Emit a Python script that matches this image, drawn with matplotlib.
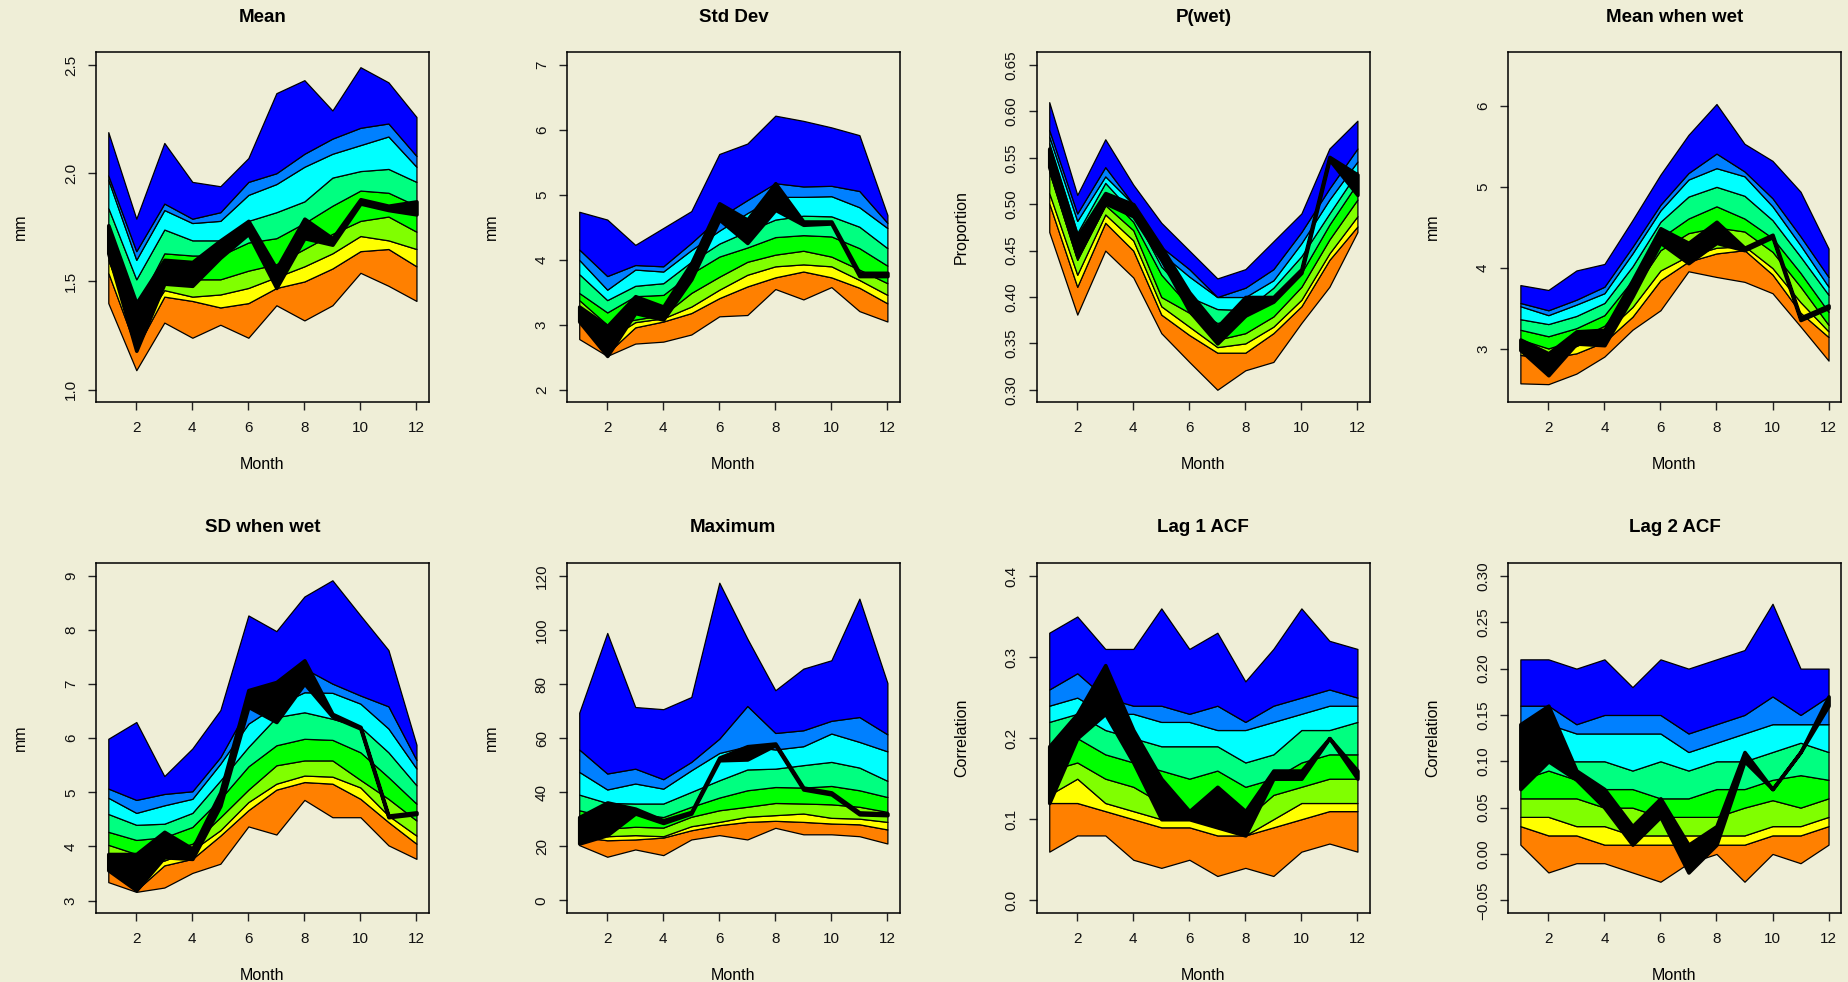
import matplotlib
matplotlib.use("Agg")
import matplotlib.pyplot as plt
from matplotlib.ticker import FixedLocator, FuncFormatter

plt.rcParams['font.family'] = ['Liberation Sans', 'DejaVu Sans']

months = list(range(1, 13))
band_colors = ['#FF8000', '#FFFF00', '#80FF00', '#00FF00',
               '#00FF80', '#00FFFF', '#0080FF', '#0000FF']
bg = '#EFEED7'

# quantile boundaries, lowest (b0) to highest (b8), one row per boundary
mean_q = [
    [1.40, 1.09, 1.31, 1.24, 1.30, 1.24, 1.39, 1.32, 1.39, 1.54, 1.48, 1.41],
    [1.54, 1.19, 1.43, 1.41, 1.38, 1.40, 1.47, 1.50, 1.56, 1.64, 1.65, 1.57],
    [1.60, 1.26, 1.46, 1.43, 1.44, 1.47, 1.52, 1.57, 1.63, 1.71, 1.69, 1.65],
    [1.65, 1.34, 1.52, 1.51, 1.51, 1.55, 1.58, 1.65, 1.72, 1.78, 1.80, 1.73],
    [1.72, 1.38, 1.63, 1.62, 1.62, 1.68, 1.70, 1.77, 1.85, 1.92, 1.91, 1.85],
    [1.84, 1.51, 1.74, 1.69, 1.69, 1.78, 1.82, 1.87, 1.98, 2.01, 2.02, 1.96],
    [1.97, 1.60, 1.83, 1.77, 1.78, 1.90, 1.95, 2.03, 2.09, 2.13, 2.17, 2.03],
    [1.99, 1.64, 1.86, 1.79, 1.82, 1.96, 2.00, 2.09, 2.16, 2.21, 2.23, 2.08],
    [2.19, 1.79, 2.14, 1.96, 1.94, 2.07, 2.37, 2.43, 2.29, 2.49, 2.42, 2.26],
]
mean_obs_lo = [1.63, 1.18, 1.49, 1.48, 1.61, 1.72, 1.47, 1.70, 1.67, 1.86, 1.83, 1.81]
mean_obs_hi = [1.76, 1.40, 1.60, 1.59, 1.69, 1.78, 1.56, 1.79, 1.70, 1.88, 1.85, 1.87]

sd_q = [
    [2.78, 2.52, 2.71, 2.74, 2.85, 3.13, 3.15, 3.55, 3.39, 3.58, 3.21, 3.05],
    [3.05, 2.56, 2.96, 3.05, 3.18, 3.41, 3.59, 3.73, 3.82, 3.73, 3.57, 3.33],
    [3.28, 2.77, 3.04, 3.10, 3.28, 3.54, 3.77, 3.90, 3.93, 3.90, 3.69, 3.46],
    [3.38, 3.00, 3.08, 3.15, 3.49, 3.74, 3.97, 4.08, 4.14, 4.05, 3.85, 3.64],
    [3.49, 3.19, 3.44, 3.46, 3.79, 4.05, 4.19, 4.35, 4.38, 4.36, 4.18, 3.91],
    [3.78, 3.38, 3.60, 3.64, 3.97, 4.25, 4.44, 4.62, 4.68, 4.67, 4.51, 4.18],
    [4.00, 3.54, 3.85, 3.82, 4.15, 4.45, 4.72, 4.97, 4.97, 4.98, 4.81, 4.49],
    [4.16, 3.75, 3.92, 3.90, 4.26, 4.65, 4.92, 5.18, 5.13, 5.14, 5.06, 4.57],
    [4.74, 4.62, 4.23, 4.49, 4.75, 5.63, 5.79, 6.22, 6.14, 6.04, 5.92, 4.69],
]
sd_obs_lo = [3.05, 2.52, 3.18, 3.08, 3.70, 4.62, 4.26, 4.77, 4.54, 4.56, 3.75, 3.75]
sd_obs_hi = [3.28, 2.98, 3.44, 3.28, 3.95, 4.87, 4.62, 5.18, 4.59, 4.59, 3.80, 3.80]

pwet_q = [
    [0.470, 0.381, 0.450, 0.421, 0.361, 0.330, 0.300, 0.321, 0.330, 0.372, 0.411, 0.470],
    [0.501, 0.411, 0.480, 0.450, 0.381, 0.359, 0.340, 0.340, 0.361, 0.390, 0.440, 0.476],
    [0.512, 0.424, 0.489, 0.461, 0.390, 0.368, 0.346, 0.350, 0.368, 0.397, 0.447, 0.487],
    [0.535, 0.440, 0.499, 0.472, 0.400, 0.383, 0.354, 0.361, 0.379, 0.411, 0.462, 0.505],
    [0.558, 0.453, 0.512, 0.481, 0.424, 0.390, 0.372, 0.379, 0.400, 0.426, 0.478, 0.523],
    [0.566, 0.469, 0.523, 0.490, 0.433, 0.400, 0.387, 0.386, 0.410, 0.444, 0.490, 0.535],
    [0.573, 0.482, 0.530, 0.500, 0.447, 0.422, 0.400, 0.400, 0.418, 0.458, 0.505, 0.546],
    [0.580, 0.490, 0.540, 0.500, 0.454, 0.430, 0.400, 0.410, 0.430, 0.470, 0.517, 0.560],
    [0.610, 0.510, 0.570, 0.521, 0.480, 0.450, 0.420, 0.430, 0.460, 0.490, 0.560, 0.590],
]
pwet_obs_lo = [0.540, 0.444, 0.501, 0.487, 0.440, 0.385, 0.350, 0.380, 0.395, 0.426, 0.548, 0.510]
pwet_obs_hi = [0.560, 0.465, 0.512, 0.500, 0.454, 0.405, 0.368, 0.400, 0.400, 0.430, 0.551, 0.532]

mwet_q = [
    [2.58, 2.57, 2.70, 2.91, 3.24, 3.48, 3.96, 3.89, 3.83, 3.69, 3.28, 2.86],
    [2.93, 2.89, 2.95, 3.09, 3.40, 3.85, 4.08, 4.18, 4.22, 3.92, 3.45, 3.15],
    [2.99, 2.95, 3.04, 3.20, 3.52, 3.97, 4.15, 4.25, 4.27, 4.00, 3.58, 3.22],
    [3.12, 3.01, 3.12, 3.29, 3.71, 4.22, 4.43, 4.50, 4.45, 4.20, 3.77, 3.30],
    [3.24, 3.16, 3.26, 3.42, 3.85, 4.37, 4.61, 4.76, 4.61, 4.37, 3.94, 3.46],
    [3.37, 3.31, 3.41, 3.57, 4.02, 4.57, 4.88, 5.00, 4.89, 4.59, 4.14, 3.67],
    [3.53, 3.42, 3.55, 3.69, 4.18, 4.71, 5.09, 5.23, 5.13, 4.76, 4.28, 3.77],
    [3.57, 3.48, 3.61, 3.77, 4.26, 4.78, 5.17, 5.41, 5.19, 4.86, 4.39, 3.89],
    [3.79, 3.73, 3.97, 4.05, 4.59, 5.15, 5.64, 6.02, 5.53, 5.32, 4.94, 4.24],
]
mwet_obs_lo = [2.99, 2.68, 3.07, 3.05, 3.65, 4.31, 4.06, 4.31, 4.22, 4.38, 3.36, 3.51]
mwet_obs_hi = [3.12, 2.95, 3.22, 3.24, 3.85, 4.49, 4.31, 4.57, 4.25, 4.41, 3.39, 3.54]

sdwet_q = [
    [3.34, 3.16, 3.24, 3.51, 3.68, 4.37, 4.22, 4.86, 4.54, 4.54, 4.02, 3.77],
    [3.56, 3.19, 3.65, 3.77, 4.20, 4.67, 5.05, 5.19, 5.16, 4.88, 4.45, 4.05],
    [3.80, 3.70, 3.74, 3.93, 4.30, 4.82, 5.16, 5.31, 5.29, 5.09, 4.57, 4.20],
    [4.03, 3.86, 3.90, 4.05, 4.54, 5.05, 5.50, 5.59, 5.59, 5.23, 4.88, 4.48],
    [4.27, 4.12, 4.17, 4.36, 4.88, 5.48, 5.87, 5.99, 5.97, 5.74, 5.28, 4.79],
    [4.60, 4.40, 4.42, 4.62, 5.22, 5.84, 6.39, 6.48, 6.36, 6.21, 5.74, 5.13],
    [4.90, 4.62, 4.76, 4.88, 5.53, 6.27, 6.61, 6.85, 6.84, 6.64, 6.18, 5.44],
    [5.07, 4.86, 4.97, 5.02, 5.65, 6.58, 6.82, 7.29, 7.01, 6.79, 6.59, 5.60],
    [5.99, 6.30, 5.30, 5.81, 6.52, 8.27, 7.98, 8.62, 8.92, 8.27, 7.63, 5.88],
]
sdwet_obs_lo = [3.56, 3.19, 3.80, 3.77, 4.75, 6.58, 6.30, 7.01, 6.40, 6.18, 4.54, 4.60]
sdwet_obs_hi = [3.86, 3.86, 4.27, 3.96, 5.00, 6.89, 7.04, 7.44, 6.45, 6.21, 4.57, 4.63]

max_q = [
    [20.4, 16.1, 18.8, 16.7, 22.5, 24.1, 22.5, 26.8, 24.4, 24.4, 23.7, 21.0],
    [23.5, 22.2, 22.5, 23.2, 25.9, 27.8, 29.0, 29.4, 29.0, 28.4, 28.1, 26.2],
    [26.5, 23.7, 24.1, 23.7, 27.4, 29.0, 30.9, 31.5, 32.1, 30.5, 30.2, 29.0],
    [31.5, 26.5, 27.2, 26.9, 30.9, 33.3, 34.6, 36.0, 35.8, 35.5, 34.6, 32.7],
    [33.3, 30.8, 32.1, 30.8, 34.6, 38.0, 40.7, 41.9, 41.7, 42.3, 40.7, 38.2],
    [39.1, 36.0, 35.8, 35.8, 40.1, 44.4, 48.4, 48.7, 50.0, 51.2, 49.1, 44.2],
    [47.5, 41.0, 43.2, 41.3, 48.1, 54.5, 57.0, 55.8, 57.0, 61.7, 58.6, 55.1],
    [55.8, 46.9, 48.7, 44.8, 51.2, 59.8, 71.9, 61.9, 62.9, 66.4, 67.8, 61.4],
    [69.4, 98.9, 71.5, 70.7, 75.2, 117.5, 96.8, 77.7, 85.7, 88.8, 111.6, 80.4],
]
max_obs_lo = [21.0, 24.1, 32.1, 28.6, 32.1, 51.8, 52.1, 57.4, 41.0, 39.2, 31.8, 31.5]
max_obs_hi = [30.8, 36.2, 33.9, 29.6, 32.7, 52.8, 57.0, 58.0, 41.7, 39.9, 32.5, 32.1]

acf1_q = [
    [0.06, 0.08, 0.08, 0.05, 0.04, 0.05, 0.03, 0.04, 0.03, 0.06, 0.07, 0.06],
    [0.12, 0.12, 0.11, 0.10, 0.09, 0.09, 0.08, 0.08, 0.09, 0.10, 0.11, 0.11],
    [0.13, 0.15, 0.12, 0.11, 0.10, 0.10, 0.09, 0.08, 0.10, 0.12, 0.12, 0.12],
    [0.16, 0.17, 0.15, 0.14, 0.12, 0.11, 0.11, 0.10, 0.13, 0.14, 0.15, 0.15],
    [0.19, 0.20, 0.18, 0.17, 0.16, 0.15, 0.16, 0.14, 0.15, 0.17, 0.18, 0.18],
    [0.22, 0.23, 0.21, 0.20, 0.19, 0.19, 0.19, 0.17, 0.18, 0.21, 0.21, 0.22],
    [0.24, 0.25, 0.23, 0.23, 0.22, 0.22, 0.21, 0.21, 0.22, 0.23, 0.24, 0.24],
    [0.26, 0.28, 0.25, 0.24, 0.24, 0.23, 0.24, 0.22, 0.24, 0.25, 0.26, 0.25],
    [0.33, 0.35, 0.31, 0.31, 0.36, 0.31, 0.33, 0.27, 0.31, 0.36, 0.32, 0.31],
]
acf1_obs_lo = [0.12, 0.20, 0.23, 0.17, 0.10, 0.10, 0.09, 0.08, 0.15, 0.15, 0.20, 0.15]
acf1_obs_hi = [0.19, 0.23, 0.29, 0.21, 0.15, 0.11, 0.14, 0.11, 0.16, 0.16, 0.20, 0.16]

acf2_q = [
    [0.01, -0.02, -0.01, -0.01, -0.02, -0.03, -0.01, 0.00, -0.03, 0.00, -0.01, 0.01],
    [0.03, 0.02, 0.02, 0.01, 0.01, 0.01, 0.01, 0.01, 0.01, 0.02, 0.02, 0.03],
    [0.04, 0.04, 0.03, 0.03, 0.02, 0.02, 0.02, 0.02, 0.02, 0.03, 0.03, 0.04],
    [0.06, 0.06, 0.06, 0.05, 0.05, 0.04, 0.04, 0.04, 0.05, 0.058, 0.05, 0.06],
    [0.08, 0.09, 0.08, 0.07, 0.07, 0.06, 0.06, 0.07, 0.07, 0.08, 0.085, 0.08],
    [0.10, 0.10, 0.10, 0.10, 0.09, 0.10, 0.09, 0.10, 0.10, 0.11, 0.12, 0.11],
    [0.14, 0.14, 0.13, 0.13, 0.13, 0.13, 0.11, 0.12, 0.13, 0.14, 0.14, 0.14],
    [0.16, 0.16, 0.14, 0.15, 0.15, 0.15, 0.13, 0.14, 0.15, 0.17, 0.15, 0.17],
    [0.21, 0.21, 0.20, 0.21, 0.18, 0.21, 0.20, 0.21, 0.22, 0.27, 0.20, 0.20],
]
acf2_obs_lo = [0.07, 0.10, 0.08, 0.05, 0.01, 0.04, -0.02, 0.01, 0.10, 0.07, 0.11, 0.16]
acf2_obs_hi = [0.14, 0.16, 0.09, 0.07, 0.03, 0.06, 0.01, 0.03, 0.11, 0.07, 0.11, 0.17]

titles = ['Mean', 'Std Dev', 'P(wet)', 'Mean when wet',
          'SD when wet', 'Maximum', 'Lag 1 ACF', 'Lag 2 ACF']
ylabels = ['mm', 'mm', 'Proportion', 'mm', 'mm', 'mm', 'Correlation', 'Correlation']


def draw_panel(ax, title, ylabel, q, obs_lo, obs_hi, ylim, yticks, fmt):
    """Quantile bands of the simulations plus the observed band in black."""
    ax.set_facecolor(bg)
    for k, col in enumerate(band_colors):
        ax.fill_between(months, q[k], q[k + 1], facecolor=col,
                        edgecolor='black', linewidth=0.9, zorder=2)
    ax.fill_between(months, obs_lo, obs_hi, facecolor='black',
                    edgecolor='black', linewidth=2.6, zorder=3)

    ax.set_xlim(0.56, 12.44)
    ax.set_ylim(*ylim)
    ax.xaxis.set_major_locator(FixedLocator([2, 4, 6, 8, 10, 12]))
    ax.yaxis.set_major_locator(FixedLocator(yticks))
    ax.yaxis.set_major_formatter(FuncFormatter(
        lambda v, p: (fmt % v).replace('-', '\u2212')))
    ax.tick_params(direction='out', length=5.5, width=1.0, labelsize=11,
                   color='#222222', labelcolor='#111111')
    ax.tick_params(axis='x', pad=8.5)
    ax.tick_params(axis='y', pad=7.5)
    for lab in ax.get_yticklabels():
        lab.set_rotation(90)
        lab.set_va('center')
    for s in ax.spines.values():
        s.set_linewidth(1.1)

    ax.set_xlabel('Month', fontsize=11.5)
    ax.xaxis.set_label_coords(0.5, -0.178)
    ax.xaxis.label.set_va('center')
    ax.set_ylabel(ylabel, fontsize=11.5)
    ax.yaxis.set_label_coords(-0.226, 0.5)
    ax.yaxis.label.set_va('center')
    ax.text(0.5, 1.1, title, transform=ax.transAxes, ha='center',
            va='center', fontsize=13.5, fontweight='bold')


fig = plt.figure(figsize=(18.49, 9.82), dpi=100, facecolor=bg)

lefts = [0.0519, 0.3066, 0.5608, 0.8156]
bottoms = [0.5906, 0.0703]
w, h = 0.1800, 0.3564

panels = [
    (mean_q, mean_obs_lo, mean_obs_hi, (0.943, 2.56), [1.0, 1.5, 2.0, 2.5], '%.1f'),
    (sd_q, sd_obs_lo, sd_obs_hi, (1.81, 7.2), [2, 3, 4, 5, 6, 7], '%d'),
    (pwet_q, pwet_obs_lo, pwet_obs_hi, (0.2868, 0.664),
     [0.30, 0.35, 0.40, 0.45, 0.50, 0.55, 0.60, 0.65], '%.2f'),
    (mwet_q, mwet_obs_lo, mwet_obs_hi, (2.35, 6.66), [3, 4, 5, 6], '%d'),
    (sdwet_q, sdwet_obs_lo, sdwet_obs_hi, (2.77, 9.24), [3, 4, 5, 6, 7, 8, 9], '%d'),
    (max_q, max_obs_lo, max_obs_hi, (-4.7, 124.8), [0, 20, 40, 60, 80, 100, 120], '%d'),
    (acf1_q, acf1_obs_lo, acf1_obs_hi, (-0.0156, 0.416), [0.0, 0.1, 0.2, 0.3, 0.4], '%.1f'),
    (acf2_q, acf2_obs_lo, acf2_obs_hi, (-0.0637, 0.314),
     [-0.05, 0.00, 0.05, 0.10, 0.15, 0.20, 0.25, 0.30], '%.2f'),
]

for i, (q, lo, hi, ylim, yt, fmt) in enumerate(panels):
    ax = fig.add_axes([lefts[i % 4], bottoms[i // 4], w, h])
    draw_panel(ax, titles[i], ylabels[i], q, lo, hi, ylim, yt, fmt)

fig.savefig('out.png', dpi=100, facecolor=bg)
